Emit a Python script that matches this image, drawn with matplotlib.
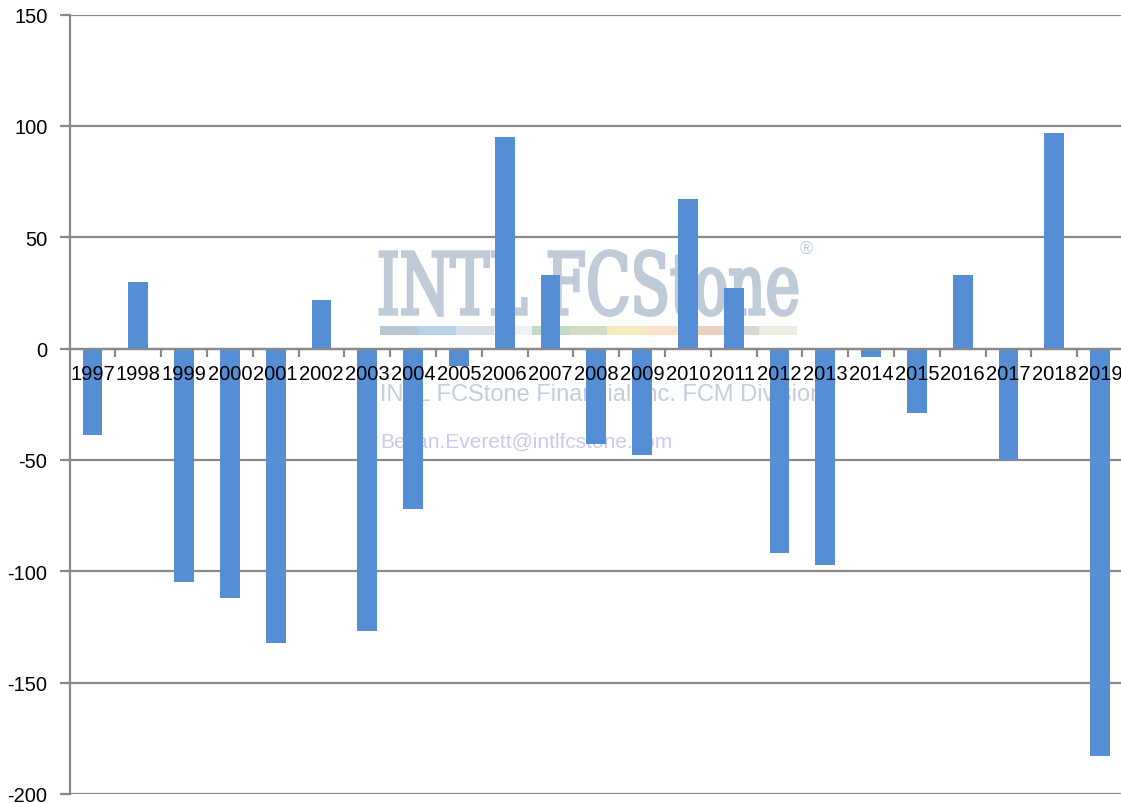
import matplotlib.pyplot as plt
from matplotlib.patches import Rectangle, PathPatch
from matplotlib.textpath import TextPath
from matplotlib.font_manager import FontProperties
from matplotlib.transforms import Affine2D

# yearly values
years = [str(y) for y in range(1997, 2020)]
values = [-39, 30, -105, -112, -132, 22, -127, -72, -8, 95,
          33, -43, -48, 67, 27, -92, -97, -4, -29, 33,
          -50, 97, -183]

yticks = [-200, -150, -100, -50, 0, 50, 100, 150]

bar_color = '#558ED5'
grid_color = '#898989'

# watermark stripe colours
stripe_colors = ['#B9C7D3', '#B8D3E8', '#D6DFE6', '#EEF2F3', '#BFDAC8', '#D3DBC3',
                 '#F2ECBF', '#FBE4CB', '#EAD0C1', '#DAD6D1', '#ECECE1']

plt.rcParams['font.family'] = ['Liberation Sans', 'DejaVu Sans']

fig = plt.figure(figsize=(11.21, 8.04), dpi=100)
ax = fig.add_axes([69.6 / 1121, 9 / 804, 1053.4 / 1121, 779.5 / 804])

x = list(range(len(years)))
ax.bar(x, values, width=0.43, color=bar_color, zorder=3)

ax.set_xlim(-0.5, len(years) - 0.5)
ax.set_ylim(-200, 150)
ax.set_yticks(yticks)
ax.set_yticklabels([str(v) for v in yticks])
ax.grid(axis='y', color=grid_color, linewidth=1.6)
# gridlines behind the bars, category labels on top of them
ax.yaxis.set_zorder(1)
ax.xaxis.set_zorder(5)

# category axis sits on the zero line
ax.spines['bottom'].set_position(('data', 0))
ax.spines['bottom'].set_color(grid_color)
ax.spines['bottom'].set_linewidth(1.6)
ax.spines['bottom'].set_zorder(4)
ax.spines['left'].set_color(grid_color)
ax.spines['left'].set_linewidth(1.6)
ax.spines['top'].set_visible(False)
ax.spines['right'].set_visible(False)

ax.set_xticks(x)
ax.set_xticklabels(years)
ax.set_xticks([i + 0.5 for i in x[:-1]], minor=True)
ax.tick_params(axis='x', which='major', length=0, pad=11, labelsize=14.5)
ax.tick_params(axis='x', which='minor', length=6, width=1.6, color=grid_color, direction='out')
ax.tick_params(axis='y', length=7, width=1.6, color=grid_color, labelsize=14.5, pad=9)
for lab in ax.get_xticklabels() + ax.get_yticklabels():
    lab.set_color('black')

# faint logo watermark behind the bars
wm = '#BFCBD7'
tp = TextPath((0, 0), 'INTL FCStone', size=1, prop=FontProperties(family='DejaVu Serif'))
ext = tp.get_extents()
x0, x1, y0, y1 = 0.2947, 0.6905, 0.614, 0.697
fit = Affine2D().translate(-ext.x0, -ext.y0).scale((x1 - x0) / ext.width,
                                                    (y1 - y0) / ext.height).translate(x0, y0)
ax.add_patch(PathPatch(tp, transform=fit + ax.transAxes, facecolor=wm, edgecolor=wm,
                       lw=2.2, zorder=0.5))
ax.text(0.6935, 0.70, '®', transform=ax.transAxes, fontsize=13,
        color=wm, ha='left', va='center', zorder=0.5)
seg_w = (0.6905 - 0.2947) / len(stripe_colors)
for i, c in enumerate(stripe_colors):
    ax.add_patch(Rectangle((0.2947 + i * seg_w, 0.589), seg_w, 0.012,
                           transform=ax.transAxes, color=c, zorder=0.5, lw=0))
ax.text(0.2947, 0.513, 'INTL FCStone Financial Inc. FCM Division', transform=ax.transAxes,
        fontsize=17, color='#C3CEDA', ha='left', va='center', zorder=0.5)
ax.text(0.2947, 0.452, 'Bevan.Everett@intlfcstone.com', transform=ax.transAxes,
        fontsize=15, color='#C9C9F2', ha='left', va='center', zorder=0.5)

fig.savefig('out.png', dpi=100)
